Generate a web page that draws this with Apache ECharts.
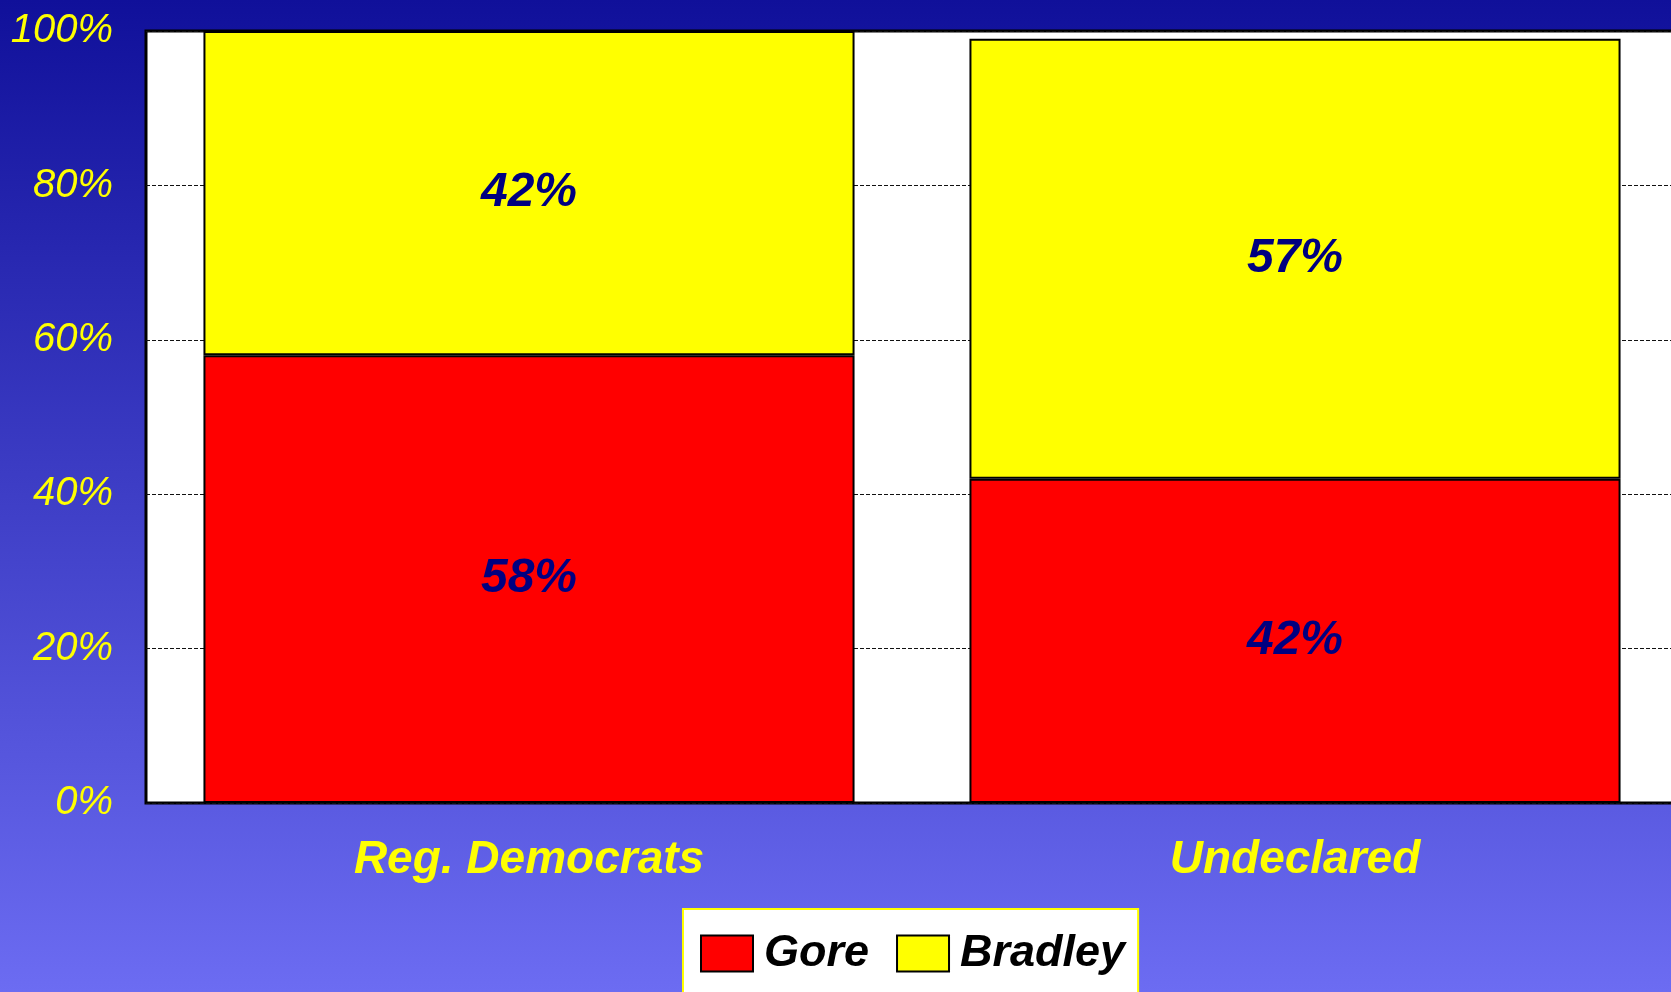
<!DOCTYPE html>
<html>
<head>
<meta charset="utf-8">
<title>Gore vs Bradley</title>
<script src="https://cdn.jsdelivr.net/npm/echarts@6/dist/echarts.min.js"></script>
<style>
  html, body { margin: 0; padding: 0; }
  #chart { width: 1671px; height: 992px; }
</style>
</head>
<body>
<div id="chart"></div>
<script>
// data
const categories = ['Reg. Democrats', 'Undeclared'];
const goreValues = [58, 42];
const bradleyValues = [42, 57];
const yTicks = [0, 20, 40, 60, 80, 100];

const FONT = "'Liberation Sans', sans-serif";

const myChart = echarts.init(document.getElementById('chart'));

const dataLabel = {
  show: true,
  position: 'inside',
  formatter: '{c}%',
  color: '#000080',
  fontFamily: FONT,
  fontStyle: 'italic',
  fontWeight: 'bold',
  fontSize: 48,
};

const option = {
  backgroundColor: new echarts.graphic.LinearGradient(0, 0, 0, 1, [
    { offset: 0, color: '#10109a' },
    { offset: 1, color: '#6c6cf2' },
  ]),
  animation: false,
  grid: {
    left: 146,
    top: 31,
    width: 1532,
    bottom: 189,
    outerBoundsMode: 'none',
    containLabel: false,
    show: true,
    backgroundColor: '#ffffff',
    borderColor: '#000000',
    borderWidth: 3,
    z: 0,
  },
  legend: {
    left: 683,
    top: 909,
    padding: [22, 13, 40, 17],
    itemGap: 27,
    itemWidth: 52,
    itemHeight: 36,
    backgroundColor: '#ffffff',
    borderColor: '#ffff00',
    borderWidth: 2,
    borderRadius: 0,
    icon: 'rect',
    itemStyle: { borderColor: '#000000', borderWidth: 2 },
    textStyle: {
      color: '#000000',
      fontFamily: FONT,
      fontStyle: 'italic',
      fontWeight: 'bold',
      fontSize: 45,
      padding: [0, 0, 0, 6],
    },
    data: ['Gore', 'Bradley'],
  },
  xAxis: {
    type: 'category',
    data: categories,
    axisLine: { show: false },
    axisTick: { show: false },
    axisLabel: {
      margin: 34,
      color: '#ffff00',
      fontFamily: FONT,
      fontStyle: 'italic',
      fontWeight: 'bold',
      fontSize: 46,
    },
  },
  yAxis: {
    type: 'value',
    min: yTicks[0],
    max: yTicks[yTicks.length - 1],
    interval: yTicks[1] - yTicks[0],
    axisLine: { show: false },
    axisTick: { show: false },
    axisLabel: {
      margin: 33,
      formatter: '{value}%',
      color: '#ffff00',
      fontFamily: FONT,
      fontStyle: 'italic',
      fontSize: 40,
    },
    splitLine: {
      lineStyle: { color: '#111111', type: [4, 2], width: 1 },
    },
  },
  series: [
    {
      name: 'Gore',
      type: 'bar',
      stack: 'vote',
      data: goreValues,
      barCategoryGap: '15%',
      itemStyle: { color: '#ff0000', borderColor: '#000000', borderWidth: 2 },
      label: dataLabel,
    },
    {
      name: 'Bradley',
      type: 'bar',
      stack: 'vote',
      data: bradleyValues,
      barCategoryGap: '15%',
      itemStyle: { color: '#ffff00', borderColor: '#000000', borderWidth: 2 },
      label: dataLabel,
    },
  ],
};

myChart.setOption(option);
</script>
</body>
</html>
